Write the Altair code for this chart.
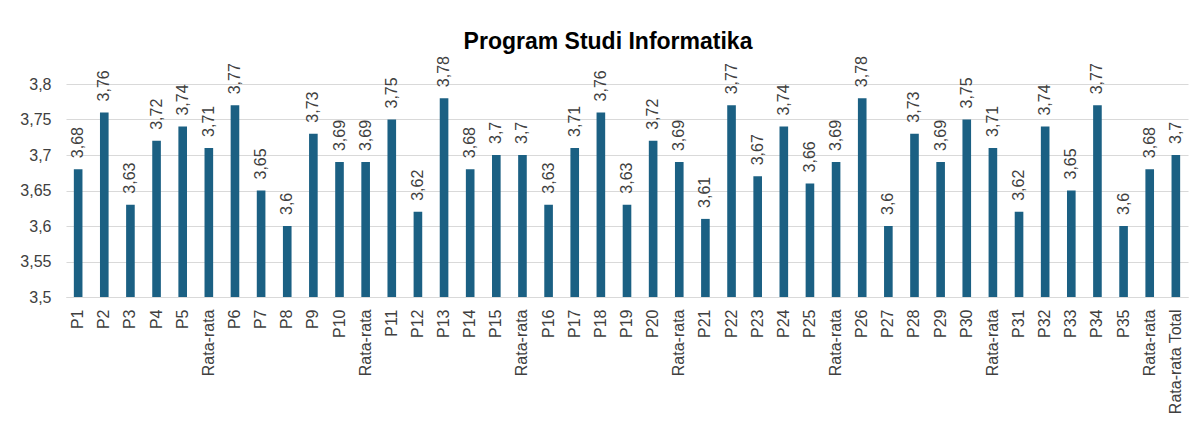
import json
import altair as alt
import pandas as pd

categories = [
    "P1", "P2", "P3", "P4", "P5", "Rata-rata",
    "P6", "P7", "P8", "P9", "P10", "Rata-rata",
    "P11", "P12", "P13", "P14", "P15", "Rata-rata",
    "P16", "P17", "P18", "P19", "P20", "Rata-rata",
    "P21", "P22", "P23", "P24", "P25", "Rata-rata",
    "P26", "P27", "P28", "P29", "P30", "Rata-rata",
    "P31", "P32", "P33", "P34", "P35", "Rata-rata",
    "Rata-rata Total",
]
values = [
    3.68, 3.76, 3.63, 3.72, 3.74, 3.71,
    3.77, 3.65, 3.60, 3.73, 3.69, 3.69,
    3.75, 3.62, 3.78, 3.68, 3.70, 3.70,
    3.63, 3.71, 3.76, 3.63, 3.72, 3.69,
    3.61, 3.77, 3.67, 3.74, 3.66, 3.69,
    3.78, 3.60, 3.73, 3.69, 3.75, 3.71,
    3.62, 3.74, 3.65, 3.77, 3.60, 3.68,
    3.70,
]
y_ticks = [3.5, 3.55, 3.6, 3.65, 3.7, 3.75, 3.8]
y_min = 3.5
y_max = 3.8

df = pd.DataFrame({"idx": list(range(len(categories))), "kategori": categories, "nilai": values})
label_arr = json.dumps(categories)

FONT = "Liberation Sans, Arial, sans-serif"
TXT = "#404040"

base = alt.Chart(df).encode(
    x=alt.X(
        "idx:O",
        sort="ascending",
        scale=alt.Scale(paddingInner=0.67, paddingOuter=0.3),
        axis=alt.Axis(
            title=None,
            labelExpr=f"{label_arr}[datum.value]",
            labelAngle=270,
            labelAlign="right",
            labelBaseline="middle",
            ticks=False,
            labelPadding=12,
            domainColor="#d9d9d9",
            domainWidth=1,
            labelFontSize=16,
            labelColor=TXT,
            labelFont=FONT,
            grid=False,
        ),
    ),
    y=alt.Y(
        "nilai:Q",
        scale=alt.Scale(domain=[y_min, y_max], zero=False, nice=False),
        axis=alt.Axis(
            title=None,
            values=y_ticks,
            labelExpr="replace(toString(datum.value), '.', ',')",
            domain=False,
            ticks=False,
            grid=True,
            gridColor="#d9d9d9",
            gridWidth=1,
            labelPadding=15,
            labelFontSize=16,
            labelColor=TXT,
            labelFont=FONT,
        ),
    ),
)

bars = base.mark_bar(color="#1b6083").encode(y2=alt.datum(y_min))

labels = base.transform_calculate(
    lbl="replace(toString(datum.nilai), '.', ',')"
).mark_text(
    angle=270, align="left", baseline="middle", dx=11, fontSize=16, color=TXT, font=FONT
).encode(text="lbl:N")

chart = alt.layer(bars, labels).properties(
    width=1122,
    height=213,
    autosize=alt.AutoSizeParams(type="none"),
    padding={"left": 58, "top": 76, "right": 2, "bottom": 120},
    title=alt.TitleParams(
        "Program Studi Informatika",
        font="Liberation Sans Narrow, Arial Narrow, Liberation Sans, sans-serif",
        fontSize=23,
        fontWeight="bold",
        color="#000000",
        anchor="middle",
        dx=-19,
        offset=2,
    ),
).configure_view(stroke=None)

chart.save("out.html", embed_options={"renderer": "svg", "actions": False})
